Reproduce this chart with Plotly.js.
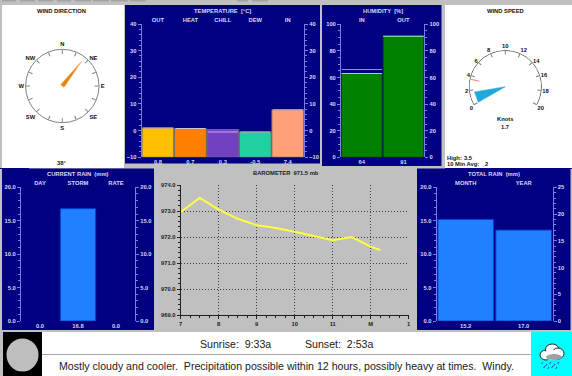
<!DOCTYPE html>
<html><head><meta charset="utf-8">
<script src="https://cdn.plot.ly/plotly-3.0.1.min.js"></script>
<style>html,body{margin:0;padding:0;background:#c0c0c0;overflow:hidden}</style>
</head><body><div id="chart" style="width:572px;height:376px"></div>
<script>
// ---- data ----
const windDirection = 38;
const compassAngles = [0,22.5,45,67.5,90,112.5,135,157.5,180,202.5,225,247.5,270,292.5,315,337.5];
const compassLabels = ['N','','NE','','E','','SE','','S','','SW','','W','','NW',''];
const windSpeed = 1.7, windHigh = 3.5, windAvg = 2;
const speedTicks = [0,2,4,6,8,10,12,14,16,18,20];
const arcSpeeds = [0,1,2,3,4,5,6,7,8,9,10,11,12,13,14,15,16,17,18,19,20];
const tempLabels = ['OUT','HEAT','CHILL','DEW','IN'];
const tempBarTops = [1.0,0.8,0.4,-0.5,7.8];
const tempHighs = [1.0,0.8,-0.5,-0.5,7.8];
const tempText = ['0.8','0.7','0.3','-0.5','7.4'];
const tempColors = ['#ffc000','#ff8000','#7040c0','#20d0a0','#ffa078'];
const humLabels = ['IN','OUT'];
const humText = ['64','91'];
const humBarTops = [63,91];
const humHighs = [66,91];
const rainLabels = ['DAY','STORM','RATE'];
const rainStorm = 16.8, rainRate = 0;
const rainText = ['0.0','16.8','0.0'];
const totalLabels = ['MONTH','YEAR'];
const totalText = ['15.2','17.0'];
const monthRain = 15.2, yearRain = 17.0;
const baroHours = [7,7.5,8,8.5,9,9.5,10,10.5,11,11.5,12,12.25];
const baroValues = [972.96,973.5,973.05,972.7,972.45,972.35,972.2,972.03,971.88,972.0,971.63,971.5];
const baroTickVals = [7,8,9,10,11,12,13];
const baroTickText = ['7','8','9','10','11','M','1'];
const sunrise = 'Sunrise:  9:33a', sunset = 'Sunset:  2:53a';
const forecast = 'Mostly cloudy and cooler.  Precipitation possible within 12 hours, possibly heavy at times.  Windy.';

// ---- layout helpers ----
const W=572,H=376;
const px=x=>x/W, py=y=>1-y/H;
const FONT='"Liberation Sans", Arial, sans-serif';
const SM=5.8;
const sf=c=>({family:FONT,size:SM,color:c,weight:700});
const NAVY='#000080', AX='#7a7ae8', TK='#d8d8f8';
const layout={width:W,height:H,margin:{l:0,r:0,t:0,b:0},paper_bgcolor:'#c0c0c0',plot_bgcolor:'rgba(0,0,0,0)',
  showlegend:false,barmode:'overlay',shapes:[],annotations:[],font:{family:FONT,size:SM}};
const traces=[];
function rect(x0,y0,x1,y1,c,lc){layout.shapes.push({type:'rect',xref:'paper',yref:'paper',x0:px(x0),x1:px(x1),y0:py(y0),y1:py(y1),fillcolor:c,line:{width:lc?1:0,color:lc||c},layer:'below'});}
function oval(x0,y0,x1,y1,c,lc){layout.shapes.push({type:'circle',xref:'paper',yref:'paper',x0:px(x0),x1:px(x1),y0:py(y0),y1:py(y1),fillcolor:c,line:{width:lc?1:0,color:lc||c},layer:'above'});}
function seg(x0,y0,x1,y1,c){layout.shapes.push({type:'line',xref:'paper',yref:'paper',x0:px(x0),x1:px(x1),y0:py(y0),y1:py(y1),line:{width:1,color:c},layer:'above'});}
function txt(x,y,t,c,o){layout.annotations.push(Object.assign({xref:'paper',yref:'paper',x:px(x),y:py(y),text:t,showarrow:false,xanchor:'center',yanchor:'middle',font:sf(c),borderpad:0},o||{}));}
let axN=0;
function panelAxes(xL,xR,yT,yB,o){
  const a=++axN,b=++axN;
  const k=i=>i===1?'':i;
  const yax=(side,range,dt,mdt,anch,over,fmt)=>({domain:[py(yB),py(yT)],range,side,anchor:anch,overlaying:over,
    tickmode:'linear',tick0:range[0],dtick:dt,ticks:'outside',ticklen:3,tickwidth:1,tickcolor:AX,showline:true,linecolor:AX,linewidth:1,
    showgrid:false,zeroline:false,tickformat:fmt,tickfont:sf(TK),
    minor:{dtick:mdt,tick0:range[0],ticks:'outside',ticklen:2,tickwidth:1,tickcolor:AX,showgrid:false}});
  const xax=(side,vals,text,anch,over)=>({domain:[px(xL),px(xR)],range:[-0.5,vals.length-0.5],side,anchor:anch,overlaying:over,
    tickmode:'array',tickvals:vals.map((_,i)=>i),ticktext:text,ticks:'',showline:false,showgrid:false,zeroline:false,
    tickfont:sf(TK),automargin:false});
  layout['xaxis'+k(a)]=xax('bottom',o.names,o.values,'y'+k(a));
  layout['yaxis'+k(a)]=yax('left',o.rangeL,o.dtL,o.mL,'x'+k(a),undefined,o.fmtL);
  layout['xaxis'+k(b)]=xax('top',o.names,o.names,'y'+k(b),'x'+k(a));
  layout['yaxis'+k(b)]=yax('right',o.rangeR||o.rangeL,o.dtR||o.dtL,o.mR||o.mL,'x'+k(b),'y'+k(a),o.fmtR||o.fmtL);
  return {l:{xaxis:'x'+k(a),yaxis:'y'+k(a)},r:{xaxis:'x'+k(b),yaxis:'y'+k(b)}};
}
function segs(vals,hw){const xs=[],ys=[];vals.forEach((v,i)=>{xs.push(i-hw,i+hw,null);ys.push(v,v,null);});return{x:xs,y:ys};}

// panels
rect(2,5,124,168,'#ffffff');
rect(125,5,320,163.5,NAVY);
rect(322,5,441.5,166,NAVY);
rect(445,5,572,168,'#ffffff');
rect(2,168.5,154,330,NAVY);
rect(417,168.5,570.5,330,NAVY);
rect(0,168,29,169,NAVY);
rect(445,168,572,169,NAVY);
rect(42,332,531,376,'#ffffff');
rect(42,354,531,355,'#a8a8a0');
rect(3,332,42,376,'#000000');
rect(531,332,572,376,'#00ffff');
oval(6.5,338.5,38.5,371.5,'#bebebe');
// window toolbar strip along the top
[[2,16],[20,35],[38,53],[57,71],[75,91],[93,109],[111,128],[130,146],[237,248],[252,268]].forEach(p=>rect(p[0],0,p[1],1.6,'#a4a4a4'));

// Temperature
const T=panelAxes(141.7,304,24,157.3,{names:tempLabels,values:tempText,rangeL:[-10,40],dtL:10,mL:2,fmtL:'d'});
traces.push({type:'bar',x:[0,1,2,3,4],y:tempBarTops.map(v=>v+10),base:-10,width:0.98,marker:{color:tempColors,line:{color:'#707070',width:1}},hoverinfo:'skip',...T.l});
{const s=segs(tempHighs,0.46);traces.push({type:'scatter',mode:'lines',x:s.x,y:s.y,line:{color:'#e8d8f0',width:1},opacity:.75,hoverinfo:'skip',...T.r});}
txt(222,11,'TEMPERATURE  [°C]',TK);

// Humidity
const Hu=panelAxes(341,424.3,24.3,157.3,{names:humLabels,values:humText,rangeL:[0,100],dtL:20,mL:5,fmtL:'d'});
traces.push({type:'bar',x:[0,1],y:humBarTops,width:0.97,marker:{color:'#008000',line:{color:'#104810',width:1}},hoverinfo:'skip',...Hu.l});
{const s=segs(humHighs,0.485);traces.push({type:'scatter',mode:'lines',x:s.x,y:s.y,line:{color:'#9090f0',width:1},hoverinfo:'skip',...Hu.r});}
{const s=segs(humBarTops,0.485);traces.push({type:'scatter',mode:'lines',x:s.x,y:s.y,line:{color:'#90e090',width:1},hoverinfo:'skip',...Hu.r});}
txt(383,11,'HUMIDITY  [%]',TK);

// Current rain
const C=panelAxes(21,135,187.3,321,{names:rainLabels,values:rainText,rangeL:[0,20],dtL:5,mL:1,fmtL:'.1f'});
traces.push({type:'bar',x:[1],y:[rainStorm],width:0.93,marker:{color:'#2080ff',line:{color:'#0040d0',width:1}},hoverinfo:'skip',...C.l});
traces.push({type:'bar',x:[2],y:[rainRate],width:0.93,marker:{color:'#2080ff'},hoverinfo:'skip',...C.r});
txt(78,174.3,'CURRENT RAIN  (mm)',TK);

// Total rain
const R=panelAxes(436.7,552.7,187.3,321,{names:totalLabels,values:totalText,rangeL:[0,20],dtL:5,mL:1,fmtL:'.1f',rangeR:[0,25],dtR:5,mR:1,fmtR:'d'});
traces.push({type:'bar',x:[0],y:[monthRain],width:0.96,marker:{color:'#2080ff',line:{color:'#0040d0',width:1}},hoverinfo:'skip',...R.l});
traces.push({type:'bar',x:[1],y:[yearRain],width:0.96,marker:{color:'#2080ff',line:{color:'#0040d0',width:1}},hoverinfo:'skip',...R.r});
txt(493.7,174.3,'TOTAL RAIN  (mm)',TK);

// Barometer
const bk='#202020';
layout.xaxis9={domain:[px(180.7),px(408.7)],range:[7,13],anchor:'y9',tickmode:'array',tickvals:baroTickVals,ticktext:baroTickText,ticks:'outside',ticklen:3,tickcolor:bk,
  showgrid:true,gridcolor:'#404040',griddash:'1px,2px',gridwidth:1,zeroline:false,showline:true,linecolor:bk,tickfont:sf(bk),
  minor:{dtick:0.25,tick0:7,ticks:'outside',ticklen:2,tickcolor:bk,showgrid:false}};
layout.yaxis9={domain:[py(315),py(185)],range:[969,974],anchor:'x9',tickmode:'linear',tick0:969,dtick:1,tickformat:'.1f',ticks:'outside',ticklen:3,tickcolor:bk,
  showgrid:true,gridcolor:'#404040',griddash:'1px,2px',gridwidth:1,zeroline:false,showline:true,linecolor:bk,tickfont:sf(bk),
  minor:{dtick:0.2,tick0:969,ticks:'outside',ticklen:2,tickcolor:bk,showgrid:false}};
traces.push({type:'scatter',mode:'lines',x:baroHours,y:baroValues,line:{color:'#ffff40',width:2},hoverinfo:'skip',xaxis:'x9',yaxis:'y9'});
txt(285.5,173,'BAROMETER  971.5 mb',bk);

// Compass
const cR=36.7,cx=62.3,cy=86;
layout.polar={domain:{x:[px(cx-cR),px(cx+cR)],y:[py(cy+cR),py(cy-cR)]},bgcolor:'rgba(0,0,0,0)',
  radialaxis:{visible:false,range:[0,1]},
  angularaxis:{direction:'clockwise',rotation:90,thetaunit:'degrees',tickmode:'array',tickvals:compassAngles,ticktext:compassLabels,
    ticks:'inside',ticklen:4,tickcolor:'#808080',showgrid:false,showline:true,linecolor:'#808080',linewidth:1,tickfont:sf('#101010')}};
traces.push({type:'scatterpolar',mode:'lines',theta:[windDirection,windDirection+90,windDirection+270,windDirection],r:[0.85,0.06,0.06,0.85],fill:'toself',fillcolor:'#e8860c',line:{color:'#f0a040',width:0.5},hoverinfo:'skip',subplot:'polar'});
txt(62,10.7,'WIND DIRECTION','#101010');
txt(62,163,windDirection+'°','#101010');

// Speed gauge
const toTheta=s=>(s*12-120+360)%360;
const gR=36.7,gx=505.3,gy=86.7;
layout.polar2={domain:{x:[px(gx-gR),px(gx+gR)],y:[py(gy+gR),py(gy-gR)]},bgcolor:'rgba(0,0,0,0)',
  radialaxis:{visible:false,range:[0,1]},
  angularaxis:{direction:'clockwise',rotation:90,thetaunit:'degrees',tickmode:'array',tickvals:speedTicks.map(toTheta),ticktext:speedTicks.map(String),
    ticks:'inside',ticklen:4,tickcolor:'#808080',showgrid:false,showline:false,tickfont:sf('#101010')}};
traces.push({type:'scatterpolar',mode:'lines',theta:arcSpeeds.map(toTheta),r:arcSpeeds.map(()=>0.99),cliponaxis:false,line:{color:'#606060',width:1},hoverinfo:'skip',subplot:'polar2'});
traces.push({type:'scatterpolar',mode:'lines',theta:[0,0,windSpeed,0].map(toTheta),r:[0,0.85,0.85,0],fill:'toself',fillcolor:'#20a8d8',line:{color:'#20a8d8',width:0.5},hoverinfo:'skip',subplot:'polar2'});
traces.push({type:'scatterpolar',mode:'lines',theta:[windHigh,windHigh].map(toTheta),r:[0.72,0.95],line:{color:'#e08090',width:1},hoverinfo:'skip',subplot:'polar2'});
txt(505.5,11,'WIND SPEED','#101010');
txt(505,119,'Knots','#101010');
txt(505,127,String(windSpeed),'#101010');
txt(445.7,157.7,'High:',  '#101010',{xanchor:'left'});
txt(468,157.7,String(windHigh),'#101010');
txt(445.7,164,'10 Min Avg:','#101010',{xanchor:'left'});
txt(486,164,String(windAvg),'#101010');

// Bottom text
const BF={family:FONT,size:10.6,color:'#202020'};
txt(235.5,344,sunrise,'#202020',{font:BF});
txt(339,344,sunset,'#202020',{font:BF});
txt(286,366,forecast,'#202020',{font:BF});

// Weather icon
oval(540,350,552,360,'#ffffff','#202020');
oval(545.5,344,559,355,'#ffffff','#202020');
oval(552,348,564,359,'#ffffff','#202020');
oval(543,350,561,360,'#ffffff');
oval(546,354,562,360,'#a0a0a0');
[[543,362],[547,364],[551,362],[555,364],[559,362],[545,366],[553,366],[549,367],[557,367]].forEach(p=>seg(p[0],p[1],p[0]-1.5,p[1]+2,'#2040e0'));

Plotly.newPlot('chart',traces,layout,{staticPlot:true,displayModeBar:false});
</script></body></html>
